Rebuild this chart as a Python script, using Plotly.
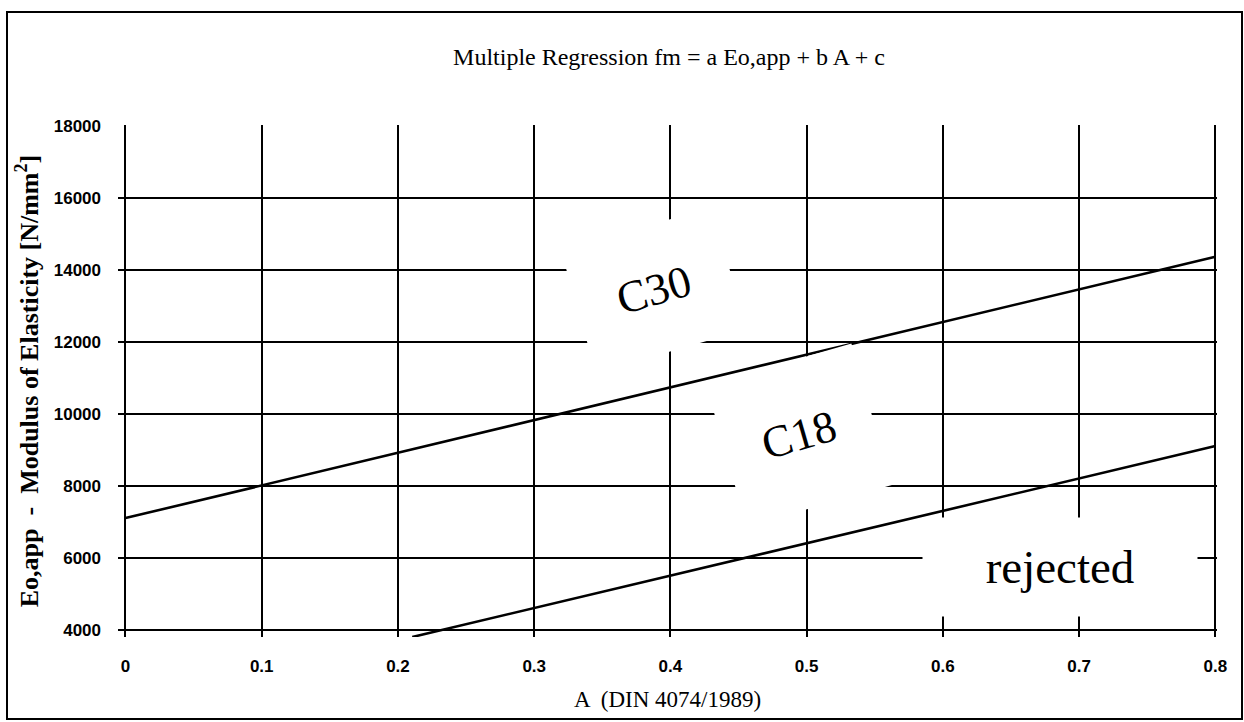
import plotly.graph_objects as go

# ---- data ----
c30_A = [0.0, 0.8]
c30_E = [7110, 14365]
c18_A = [0.2105, 0.8]
c18_E = [3810, 9108]

x_ticks = [0, 0.1, 0.2, 0.3, 0.4, 0.5, 0.6, 0.7, 0.8]
x_ticktext = ["0", "0.1", "0.2", "0.3", "0.4", "0.5", "0.6", "0.7", "0.8"]
y_ticks = [4000, 6000, 8000, 10000, 12000, 14000, 16000, 18000]
y_ticktext = ["4000", "6000", "8000", "10000", "12000", "14000", "16000", "18000"]

labels = ["C30", "C18", "rejected"]
label_A = [0.388, 0.4945, 0.686]
label_E = [13430, 9420, 5740]
label_angle = [-16, -16, 0]
label_w = [156, 150, 274]
label_h = [126, 146, 98]
label_size = [45, 45, 47]

W, H = 1244, 722
L, R, T, B = 118, 27, 125, 85

fig = go.Figure()
for xa, ya in [(c30_A, c30_E), (c18_A, c18_E)]:
    fig.add_trace(go.Scatter(x=xa, y=ya, mode="lines",
                             line=dict(color="black", width=2.6),
                             showlegend=False, hoverinfo="skip"))

for t, a, e, ang, w, h, s in zip(labels, label_A, label_E, label_angle,
                                 label_w, label_h, label_size):
    fig.add_annotation(x=a, y=e, xref="x", yref="y", text=t, showarrow=False,
                       textangle=ang, width=w, height=h, bgcolor="white",
                       borderpad=0, align="center", valign="middle",
                       font=dict(family="Liberation Serif, Times New Roman, serif",
                                 size=s, color="black"))

pw = W - L - R
ph = H - T - B
def px2paper(px, py):
    return (px - L) / pw, 1 - (py - T) / ph

x0, y0 = px2paper(7, 719)
x1, y1 = px2paper(1242, 12)
fig.add_shape(type="rect", xref="paper", yref="paper", x0=x0, y0=y0, x1=x1, y1=y1,
              line=dict(color="black", width=2), fillcolor="rgba(0,0,0,0)", layer="above")

fig.update_layout(
    width=W, height=H,
    margin=dict(l=L, r=R, t=T, b=B),
    paper_bgcolor="white", plot_bgcolor="white",
    title=dict(text="Multiple Regression fm = a Eo,app + b A + c",
               x=669 / W, xanchor="center", y=1 - 57 / H, yanchor="middle",
               font=dict(family="Liberation Serif, Times New Roman, serif",
                         size=24, color="black")),
    xaxis=dict(range=[-0.0055, 0.8012], tickvals=x_ticks, ticktext=x_ticktext,
               showgrid=True, gridcolor="black", gridwidth=2.2, zeroline=False,
               showline=False, ticks="", ticklabelstandoff=17,
               tickfont=dict(family="Liberation Sans, Arial, sans-serif", size=17,
                             color="black", weight="bold"),
               title=dict(text="A  (DIN 4074/1989)", standoff=15,
                          font=dict(family="Liberation Serif, Times New Roman, serif",
                                    size=23, color="black"))),
    yaxis=dict(range=[3810, 18020], tickvals=y_ticks, ticktext=y_ticktext,
               showgrid=True, gridcolor="black", gridwidth=2.4, zeroline=False,
               showline=False, ticks="", ticklabelstandoff=16,
               tickfont=dict(family="Liberation Sans, Arial, sans-serif", size=17,
                             color="black", weight="bold"),
               title=dict(text="Eo,app  -  Modulus of Elasticity [N/mm<sup>2</sup>]",
                          standoff=7,
                          font=dict(family="Liberation Serif, Times New Roman, serif",
                                    size=26, color="black", weight="bold"))),
)

fig.write_html("out.html")
